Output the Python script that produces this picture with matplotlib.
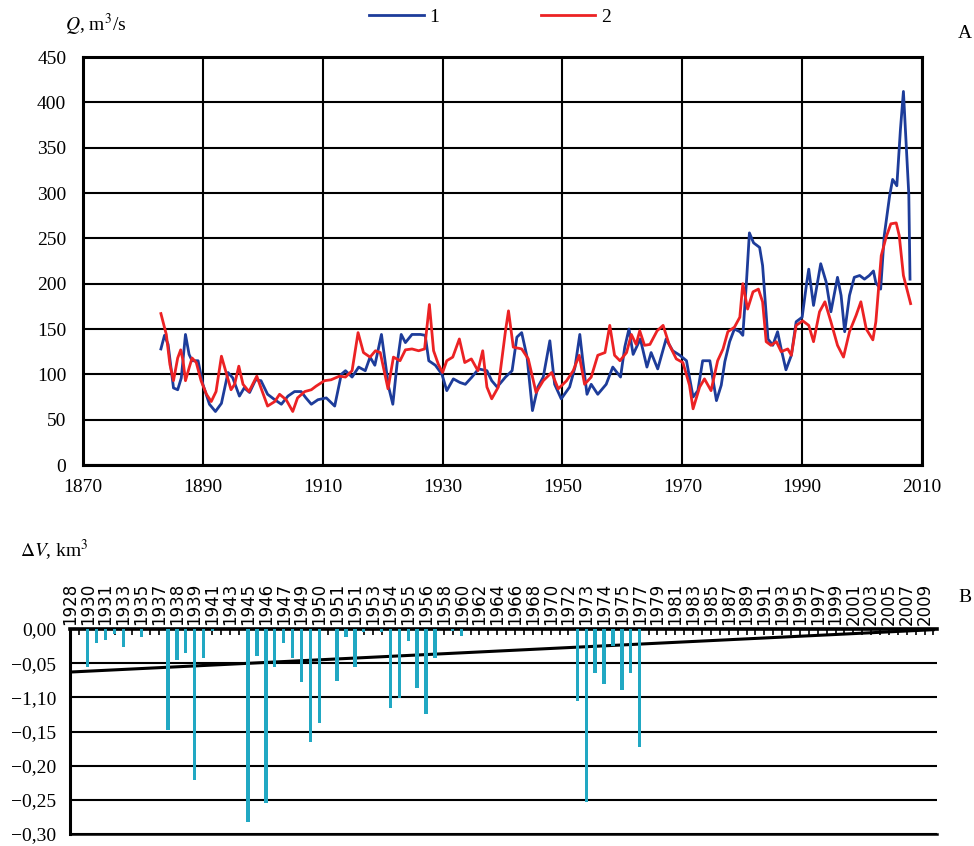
import matplotlib.pyplot as plt

plt.rcParams["font.family"] = ["Liberation Serif", "DejaVu Serif"]
plt.rcParams["mathtext.fontset"] = "stix"

# -----------------------------
# Panel A: discharge Q, m3/s (digitised)
# -----------------------------
blue_year = [1883.0, 1883.6, 1884.2, 1885.1, 1885.8, 1886.4, 1887.1, 1887.7, 1888.2, 1889.2,
             1890.0, 1891.1, 1892.1, 1893.1, 1894.2, 1895.0, 1896.1, 1896.9, 1897.8, 1898.8,
             1899.7, 1900.8, 1902.0, 1903.1, 1904.2, 1905.3, 1906.4, 1907.2, 1908.1, 1909.2,
             1910.6, 1912.0, 1913.1, 1913.8, 1914.9, 1916.0, 1917.1, 1917.9, 1918.7, 1919.8,
             1920.4, 1921.0, 1921.7, 1922.4, 1923.1, 1923.8, 1924.9, 1926.3, 1927.1, 1927.7,
             1928.8, 1929.9, 1930.7, 1931.8, 1932.9, 1933.8, 1934.9, 1936.0, 1937.4, 1938.2,
             1939.1, 1940.5, 1941.6, 1942.4, 1943.2, 1944.1, 1945.0, 1945.9, 1946.8, 1947.9,
             1948.7, 1949.8, 1951.2, 1952.1, 1952.9, 1953.4, 1954.1, 1954.8, 1955.9, 1957.3,
             1958.4, 1959.7, 1960.4, 1961.1, 1961.8, 1963.0, 1964.1, 1964.8, 1965.9, 1967.3,
             1968.4, 1969.6, 1970.7, 1971.8, 1972.6, 1973.4, 1974.6, 1975.7, 1976.5, 1977.1,
             1977.9, 1978.7, 1979.6, 1980.1, 1980.7, 1981.2, 1981.9, 1982.9, 1983.4, 1984.3,
             1985.1, 1985.9, 1986.5, 1987.3, 1988.2, 1989.0, 1990.0, 1990.7, 1991.1, 1991.9,
             1993.1, 1994.0, 1994.8, 1995.9, 1996.5, 1997.1, 1997.9, 1998.7, 1999.6, 2000.4,
             2001.2, 2001.9, 2002.3, 2003.1, 2003.7, 2004.6, 2005.1, 2005.8, 2006.4, 2006.9,
             2007.3, 2007.8, 2008.0]
blue_q = [128, 143, 133, 85, 83, 96, 144, 122, 115, 115,
          89, 67, 59, 68, 102, 96, 76, 85, 80, 94,
          93, 78, 72, 67, 76, 81, 81, 74, 67, 72,
          74, 65, 100, 104, 97, 108, 104, 119, 110, 144,
          115, 86, 67, 111, 144, 135, 144, 144, 143, 115,
          110, 100, 82, 95, 91, 89, 97, 106, 104, 93,
          86, 97, 104, 141, 146, 119, 60, 86, 97, 137,
          89, 73, 86, 108, 144, 115, 78, 89, 78, 89,
          108, 97, 130, 150, 122, 139, 108, 124, 106, 139,
          126, 121, 115, 75, 82, 115, 115, 71, 88, 114,
          136, 150, 147, 143, 201, 256, 245, 240, 220, 139,
          132, 147, 128, 105, 121, 158, 163, 198, 216, 176,
          222, 202, 169, 207, 187, 147, 187, 207, 209, 205,
          209, 214, 201, 194, 253, 297, 315, 308, 370, 412,
          362, 298, 205]

red_year = [1883.0, 1883.9, 1884.5, 1885.1, 1885.8, 1886.3, 1886.7, 1887.1, 1887.7, 1888.2,
            1888.9, 1889.7, 1890.6, 1891.4, 1892.2, 1893.1, 1893.8, 1894.7, 1895.3, 1896.0,
            1896.7, 1897.7, 1899.0, 1899.7, 1900.8, 1902.0, 1902.8, 1903.9, 1905.0, 1905.8,
            1907.0, 1908.1, 1908.9, 1910.3, 1911.4, 1912.8, 1913.8, 1914.9, 1915.9, 1916.8,
            1917.9, 1918.8, 1919.6, 1920.9, 1921.8, 1922.9, 1923.8, 1924.9, 1926.0, 1927.0,
            1927.8, 1928.5, 1929.3, 1930.0, 1930.7, 1931.7, 1932.8, 1933.7, 1934.8, 1935.9,
            1936.7, 1937.4, 1938.2, 1939.3, 1940.5, 1941.0, 1941.8, 1943.2, 1944.3, 1945.6,
            1946.8, 1948.2, 1949.3, 1950.7, 1951.8, 1952.8, 1953.7, 1954.8, 1955.9, 1957.1,
            1957.9, 1958.7, 1959.6, 1960.7, 1961.5, 1962.3, 1962.9, 1963.7, 1964.6, 1965.8,
            1966.8, 1967.8, 1969.0, 1970.1, 1971.2, 1971.8, 1972.9, 1973.7, 1974.8, 1975.9,
            1976.8, 1977.6, 1978.7, 1979.6, 1980.1, 1980.9, 1981.8, 1982.7, 1983.4, 1984.0,
            1984.8, 1985.7, 1986.5, 1987.6, 1988.2, 1989.0, 1990.1, 1991.1, 1991.9, 1992.9,
            1993.8, 1994.8, 1995.9, 1996.9, 1997.9, 1999.0, 1999.8, 2000.7, 2001.8, 2002.3,
            2003.2, 2004.0, 2004.8, 2005.7, 2006.2, 2006.9, 2007.6, 2008.1]
red_q = [167, 144, 111, 93, 118, 127, 115, 93, 107, 118,
         113, 93, 78, 70, 81, 120, 104, 83, 89, 109,
         89, 81, 98, 85, 65, 70, 78, 72, 59, 74,
         81, 83, 87, 93, 94, 98, 97, 104, 146, 124,
         119, 126, 124, 84, 119, 115, 127, 128, 126, 128,
         177, 126, 111, 102, 115, 119, 139, 113, 117, 104,
         126, 86, 73, 86, 148, 170, 130, 128, 117, 80,
         93, 102, 84, 93, 104, 121, 89, 97, 121, 124,
         154, 121, 115, 124, 144, 133, 148, 132, 133, 148,
         154, 133, 117, 113, 88, 62, 86, 95, 82, 115,
         128, 147, 152, 163, 200, 172, 191, 194, 180, 136,
         132, 136, 125, 128, 121, 154, 159, 154, 136, 169,
         180, 158, 132, 119, 147, 165, 180, 150, 138, 158,
         231, 251, 266, 267, 253, 209, 191, 178]

a_xticks = [1870, 1890, 1910, 1930, 1950, 1970, 1990, 2010]
a_yticks = [0, 50, 100, 150, 200, 250, 300, 350, 400, 450]

# -----------------------------
# Panel B: volume change dV, km3
# -----------------------------
b_labels = ["1928", "1930", "1931", "1933", "1935", "1937", "1938", "1939", "1941", "1943",
            "1945", "1946", "1947", "1949", "1950", "1951", "1951", "1953", "1954", "1955",
            "1956", "1958", "1960", "1962", "1964", "1966", "1968", "1970", "1972", "1973",
            "1974", "1975", "1977", "1979", "1981", "1983", "1985", "1987", "1989", "1991",
            "1993", "1995", "1997", "1999", "2001", "2003", "2005", "2007", "2009"]
n_cat = 98
bar_idx = [2, 3, 4, 5, 6, 8, 11, 12, 13, 14, 15, 16, 20, 21, 22, 23, 24, 25, 26, 27,
           28, 30, 31, 32, 33, 35, 36, 37, 38, 39, 40, 41, 43, 44, 57, 58, 59, 60, 61, 62,
           63, 64]
bar_val = [-0.055, -0.021, -0.016, -0.008, -0.027, -0.012, -0.148, -0.045, -0.035, -0.221,
           -0.042, -0.003, -0.282, -0.040, -0.255, -0.055, -0.021, -0.042, -0.078, -0.166,
           -0.137, -0.076, -0.012, -0.056, -0.004, -0.004, -0.116, -0.101, -0.018, -0.086,
           -0.125, -0.042, -0.003, -0.010, -0.105, -0.253, -0.064, -0.081, -0.025, -0.089,
           -0.065, -0.172]
trend_val = [-0.063, -0.001]
b_yticks = [0.0, -0.05, -0.10, -0.15, -0.20, -0.25, -0.30]
b_ylabels = ["0,00", "\u22120,05", "\u22121,10", "\u22120,15", "\u22120,20", "\u22120,25", "\u22120,30"]

BLUE = "#1d3c9a"
RED = "#ec2224"
CYAN = "#21a8c3"
W, H = 974, 846

fig = plt.figure(figsize=(W / 100, H / 100), dpi=100)

# ---- panel A
axA = fig.add_axes([83 / W, 1 - 465 / H, 839 / W, 408 / H])
axA.plot(blue_year, blue_q, color=BLUE, lw=2.0, label="1", zorder=3)
axA.plot(red_year, red_q, color=RED, lw=2.0, label="2", zorder=3)
axA.set_xlim(1870, 2010)
axA.set_ylim(0, 450)
axA.set_xticks(a_xticks)
axA.set_yticks(a_yticks)
axA.grid(True, color="black", lw=1.5)
axA.set_axisbelow(True)
for s in axA.spines.values():
    s.set_linewidth(2.2)
axA.tick_params(length=0, labelsize=14)
axA.tick_params(axis="y", pad=12)
axA.tick_params(axis="x", pad=10)

fig.legend(loc="center", bbox_to_anchor=(490 / W, 1 - 17 / H), ncol=2, frameon=False,
           handlelength=2.8, columnspacing=5.2, handletextpad=0.3, fontsize=14)
fig.text(65 / W, 1 - 25 / H, r"$Q$, m$^3$/s", fontsize=14, va="center")
fig.text(958 / W, 1 - 33 / H, "A", fontsize=14, va="center")

# ---- panel B
axB = fig.add_axes([70 / W, 1 - 834 / H, 867 / W, 205 / H])
axB.plot([0, n_cat - 1], trend_val, color="black", lw=2.2, zorder=3)
axB.bar(bar_idx, bar_val, width=0.38, color=CYAN, zorder=4)
axB.set_xlim(0, n_cat - 0.6)
axB.set_ylim(-0.30, 0.0)
axB.set_yticks(b_yticks)
axB.set_yticklabels(b_ylabels)
axB.yaxis.grid(True, color="black", lw=1.5)
axB.set_axisbelow(True)
axB.xaxis.tick_top()
axB.set_xticks(list(range(0, 2 * len(b_labels), 2)))
axB.set_xticklabels(b_labels, rotation=90, family=["Liberation Sans Narrow", "DejaVu Sans"])
axB.set_xticks(list(range(n_cat)), minor=True)
axB.tick_params(axis="x", which="both", direction="in", length=4, width=1.2, labelsize=12, pad=3)
axB.tick_params(axis="y", length=0, labelsize=14, pad=10)
axB.spines["right"].set_visible(False)
axB.spines["top"].set_linewidth(2.6)
axB.spines["left"].set_linewidth(2.2)
axB.spines["bottom"].set_linewidth(1.8)

fig.text(20 / W, 1 - 550 / H, r"$\Delta V$, km$^3$", fontsize=14, va="center")
fig.text(958 / W, 1 - 597 / H, "B", fontsize=14, va="center")

fig.savefig("out.png", dpi=100)
